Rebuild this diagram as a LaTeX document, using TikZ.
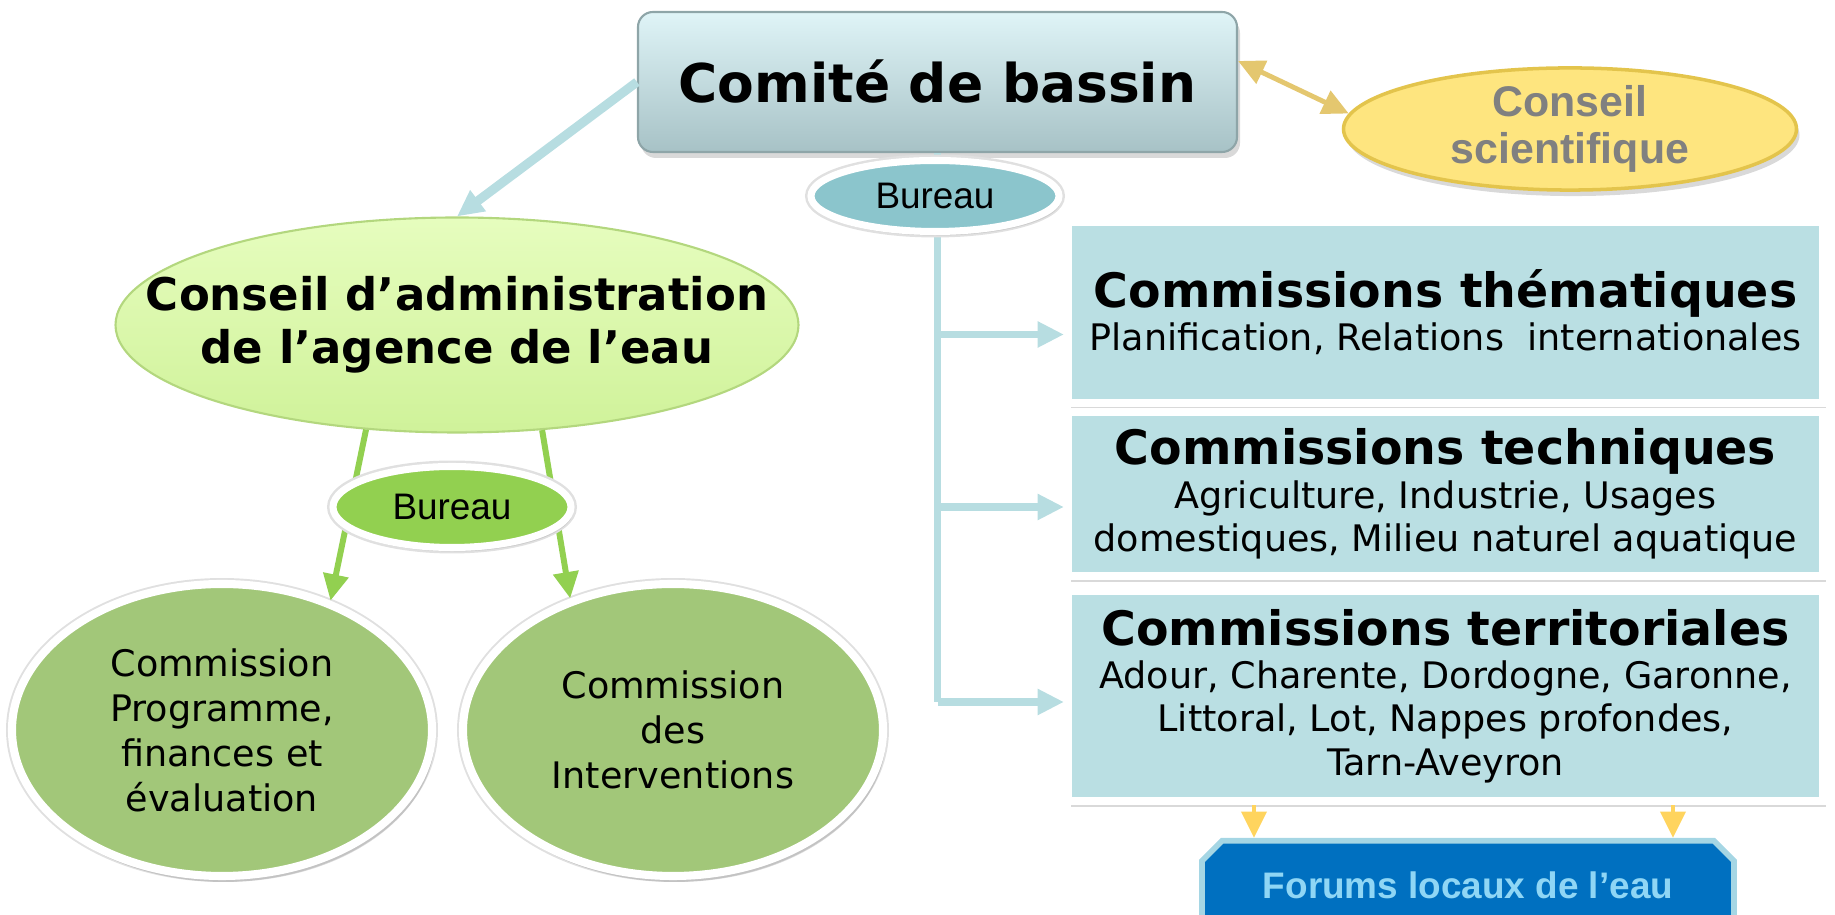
\documentclass[tikz,border=0pt]{standalone}
\usepackage{xcolor}
\usepackage{fontspec}
\setmainfont{DejaVu Sans}
\newfontfamily\arialfont{Liberation Sans}
\usepackage{tikz}
\usetikzlibrary{shapes.geometric,shapes.misc,shadows,arrows.meta}

\definecolor{comtop}{HTML}{DFF4F7}
\definecolor{combot}{HTML}{A7C2C6}
\definecolor{spinecol}{HTML}{B7DDE1}
\definecolor{bureaublue}{HTML}{8BC5CC}
\definecolor{boxfill}{HTML}{BADFE3}
\definecolor{scifill}{HTML}{FEE57F}
\definecolor{sciedge}{HTML}{E3C44C}
\definecolor{goldline}{HTML}{E4C76F}
\definecolor{adminlight}{HTML}{E6FDBE}
\definecolor{adminfill}{HTML}{D9FBA3}
\definecolor{adminedge}{HTML}{B3D77E}
\definecolor{bureaugreen}{HTML}{92D050}
\definecolor{commfill}{HTML}{A2C779}
\definecolor{forumfill}{HTML}{0070C0}
\definecolor{forumedge}{HTML}{A5D6E4}
\definecolor{forumtext}{HTML}{8FD6F5}
\definecolor{yellowline}{HTML}{FFD45E}

\newcommand\comtitle[1]{{\fontsize{13.5}{13.5}\selectfont\bfseries #1}}

\begin{document}
\begin{tikzpicture}[
  softshadow/.style={drop shadow={opacity=.3,shadow xshift=.03cm,shadow yshift=-.06cm}},
  halo/.style={preaction={draw=black!12,line width=3.4pt}},
  commbox/.style={rectangle,fill=boxfill,draw=white,line width=2.3pt,minimum width=7.55cm,align=center,font=\fontsize{10.4}{12.3}\selectfont,softshadow},
  commoval/.style={ellipse,fill=commfill,draw=white,line width=2.3pt,halo,minimum width=4.2cm,minimum height=2.92cm,inner sep=0pt,align=center,font=\fontsize{10.4}{12.8}\selectfont,softshadow},
  bureau/.style={ellipse,draw=white,line width=2pt,halo,inner sep=0pt,font=\arialfont\fontsize{10.5}{12}\selectfont,drop shadow={opacity=.2,shadow xshift=.02cm,shadow yshift=-.04cm}},
  cyanline/.style={draw=spinecol,line width=2pt},
  cyanarrow/.style={cyanline,->},
  greenarrow/.style={draw=bureaugreen,line width=1.7pt,->},
  goldarrow/.style={draw=goldline,line width=1.4pt,<->},
  yellowarrow/.style={draw=yellowline,line width=1.4pt,->}
]
\clip (0,0) rectangle (18.35,9.15);

\node (comite) at (9.375,8.33) [rectangle,rounded corners=.15cm,minimum width=5.99cm,minimum height=1.40cm,top color=comtop,bottom color=combot,draw=combot!85!black,line width=.6pt,softshadow,font=\fontsize{15.2}{16}\selectfont\bfseries] {Comité de bassin};
\node (sci) at (15.70,7.86) [ellipse,minimum width=4.53cm,minimum height=1.22cm,inner sep=0pt,fill=scifill,draw=sciedge,line width=1pt,align=center,text=black!50,font=\arialfont\fontsize{12.2}{13.2}\selectfont\bfseries,softshadow] {Conseil\\scientifique};
\node (admin) at (4.57,5.90) [ellipse,minimum width=6.83cm,minimum height=2.15cm,inner xsep=-.7cm,inner ysep=0pt,top color=adminlight,middle color=adminfill,bottom color=adminfill!75!adminedge,draw=adminedge,line width=.6pt,align=center,font=\fontsize{12.8}{15}\selectfont\bfseries] {Conseil d’administration\\de l’agence de l’eau};

\node (thema) at (14.455,6.025) [commbox,minimum height=1.81cm] {\comtitle{Commissions thématiques}\\Planification, Relations\ \ internationales};
\node (techn) at (14.455,4.21) [commbox,minimum height=1.64cm] {\comtitle{Commissions techniques}\\Agriculture, Industrie, Usages\\domestiques, Milieu naturel aquatique};
\node (terr) at (14.455,2.19) [commbox,minimum height=2.10cm] {\comtitle{Commissions territoriales}\\Adour, Charente, Dordogne, Garonne,\\Littoral, Lot, Nappes profondes,\\Tarn-Aveyron};

\node (prog) at (2.22,1.85) [commoval] {Commission\\Programme,\\finances et\\évaluation};
\node (interv) at (6.73,1.85) [commoval] {Commission\\des\\Interventions};

\node (forums) at (14.68,0.77) [anchor=north,chamfered rectangle,chamfered rectangle corners={north west,north east},chamfered rectangle sep=.1cm,minimum width=5.32cm,minimum height=.9cm,fill=forumfill,draw=forumedge,line width=1.6pt,text=forumtext,font=\arialfont\fontsize{10.5}{12}\selectfont\bfseries] {Forums locaux de l’eau};

\begin{scope}[>={Triangle[length=7.5pt,width=7pt]}]
\coordinate (spine) at (9.375,2.13);
\coordinate (thin) at ([yshift=-.22cm]thema.west);
\coordinate (tein) at ([yshift=-.13cm]techn.west);
\coordinate (trin) at ([yshift=-.06cm]terr.west);
\coordinate (f1) at ([xshift=-2.14cm]forums.north);
\coordinate (f2) at ([xshift=2.05cm]forums.north);
\draw[cyanline] (comite.south) -- (spine);
\draw[cyanarrow] (thin -| spine) -- (thin);
\draw[cyanarrow] (tein -| spine) -- (tein);
\draw[cyanarrow] (trin -| spine) -- (trin);
\draw[cyanarrow,line width=2.6pt] (comite.west) -- (admin.north);
\draw[goldarrow] (comite.4) -- (sci.176);
\draw[greenarrow] (admin.229) -- (prog.50);
\draw[greenarrow] (admin.309) -- (interv.128);
\draw[yellowarrow] (terr.south -| f1) -- (f1);
\draw[yellowarrow] (terr.south -| f2) -- (f2);
\end{scope}

\node (bureautop) at (9.35,7.19) [bureau,fill=bureaublue,minimum width=2.48cm,minimum height=.71cm] {Bureau};
\node (bureauleft) at (4.52,4.08) [bureau,fill=bureaugreen,minimum width=2.38cm,minimum height=.81cm] {Bureau};
\end{tikzpicture}
\end{document}
